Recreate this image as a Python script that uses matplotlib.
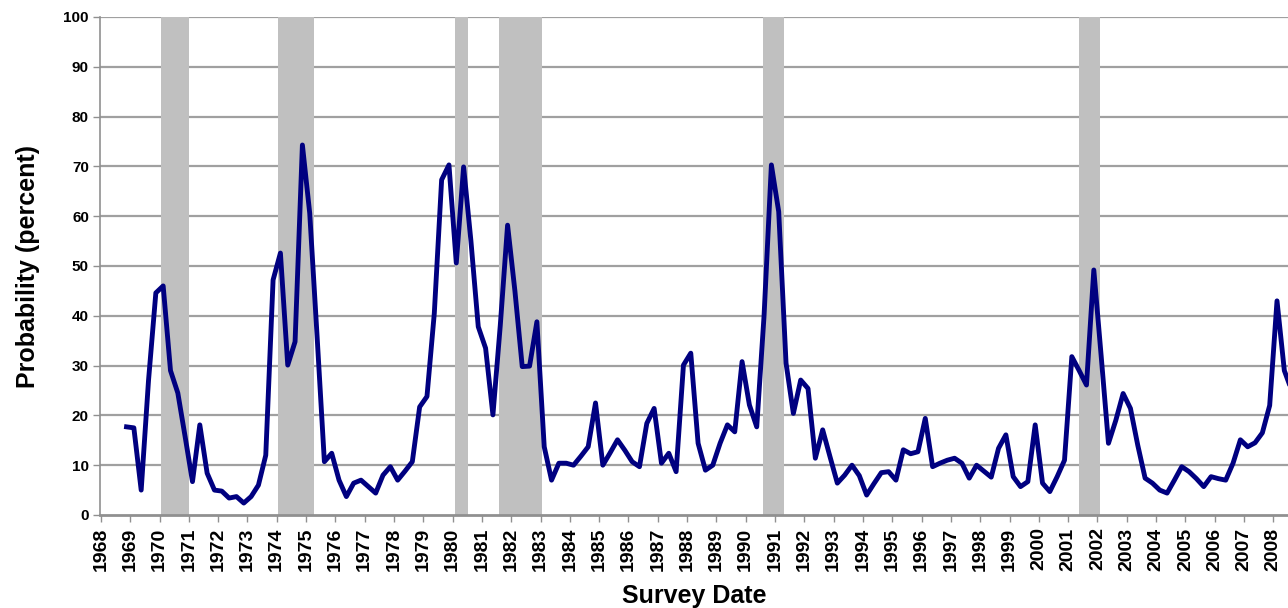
import numpy as np
import matplotlib
matplotlib.use('Agg')
import matplotlib.pyplot as plt

plt.rcParams['font.family'] = ['Liberation Sans', 'DejaVu Sans']

# quarterly survey values, starting 1968 Q4
probability = [
    17.7, 17.5, 5.0, 27.0, 44.6, 46.0, 29.0, 24.5, 15.7, 6.7,
    18.1, 8.4, 5.0, 4.8, 3.4, 3.7, 2.4, 3.7, 6.0, 12.0,
    47.2, 52.6, 30.1, 34.8, 74.3, 60.6, 36.0, 10.7, 12.4, 7.0,
    3.7, 6.4, 7.0, 5.7, 4.4, 8.0, 9.7, 7.0, 8.8, 10.7,
    21.7, 23.8, 40.5, 67.3, 70.3, 50.6, 69.9, 55.0, 37.8, 33.5,
    20.1, 38.0, 58.2, 45.0, 29.8, 29.9, 38.8, 13.7, 7.0, 10.4,
    10.4, 10.0, 11.8, 13.7, 22.5, 10.0, 12.5, 15.1, 13.0, 10.7,
    9.7, 18.4, 21.4, 10.4, 12.4, 8.7, 30.1, 32.5, 14.4, 9.0,
    10.0, 14.4, 18.1, 16.7, 30.8, 22.1, 17.7, 40.0, 70.3, 60.9,
    30.5, 20.4, 27.1, 25.4, 11.4, 17.1, 11.7, 6.4, 8.0, 10.0,
    7.9, 4.0, 6.3, 8.5, 8.7, 7.0, 13.1, 12.3, 12.7, 19.4,
    9.7, 10.4, 11.0, 11.4, 10.4, 7.4, 10.0, 8.8, 7.6, 13.4,
    16.1, 7.7, 5.7, 6.7, 18.1, 6.4, 4.7, 7.7, 11.0, 31.8,
    29.0, 26.1, 49.2, 32.0, 14.4, 19.0, 24.4, 21.4, 14.0, 7.4,
    6.4, 5.0, 4.4, 7.0, 9.7, 8.7, 7.3, 5.7, 7.7, 7.3,
    7.0, 10.4, 15.1, 13.7, 14.5, 16.5, 22.0, 43.0, 29.0, 25.0,
]
dates = 1968.875 + 0.25 * np.arange(len(probability))

# recession periods (start, end) in years
recession_start = [1970.05, 1974.04, 1980.08, 1981.58, 1990.59, 2001.38]
recession_end = [1971.0, 1975.27, 1980.53, 1983.05, 1991.31, 2002.10]

years = list(range(1968, 2009))

fig = plt.figure(figsize=(12.88, 6.08), dpi=100)
ax = fig.add_axes([100/1288, 1 - 515/608, 1188/1288, 498/608])

# grid lines under shading
for v in range(10, 101, 10):
    ax.axhline(v, color='#a0a0a0', lw=1.6, zorder=1)

for s, e in zip(recession_start, recession_end):
    ax.axvspan(s, e, color='#c0c0c0', lw=0, zorder=2)

ax.plot(dates, probability, color='#000080', lw=3.5, zorder=3,
        solid_joinstyle='round')

ax.set_xlim(1967.97, 2008.5)
ax.set_ylim(0, 100)
ax.set_yticks(range(0, 101, 10))
ax.set_xticks(years)
ax.set_xticklabels([str(y) for y in years], rotation=90, fontsize=14,
                   fontweight='bold')
ax.set_yticklabels([str(v) for v in range(0, 101, 10)], fontsize=11,
                   fontweight='bold')

for sp in ['top', 'right']:
    ax.spines[sp].set_visible(False)
ax.spines['left'].set_color('#909090')
ax.spines['left'].set_linewidth(1.2)
ax.spines['bottom'].set_color('#909090')
ax.spines['bottom'].set_linewidth(2)
ax.spines['bottom'].set_zorder(4)
ax.tick_params(axis='x', length=5, width=1, color='#909090', pad=4)
ax.tick_params(axis='y', length=5, width=1, color='#909090', pad=3)

ax.set_xlabel('Survey Date', fontsize=18, fontweight='bold')
ax.set_ylabel('Probability (percent)', fontsize=18, fontweight='bold')
ax.xaxis.set_label_coords(0.5, (515 - 584) / 498)
ax.yaxis.set_label_coords((40 - 100) / 1188, 0.5)

fig.savefig('out.png', dpi=100)
